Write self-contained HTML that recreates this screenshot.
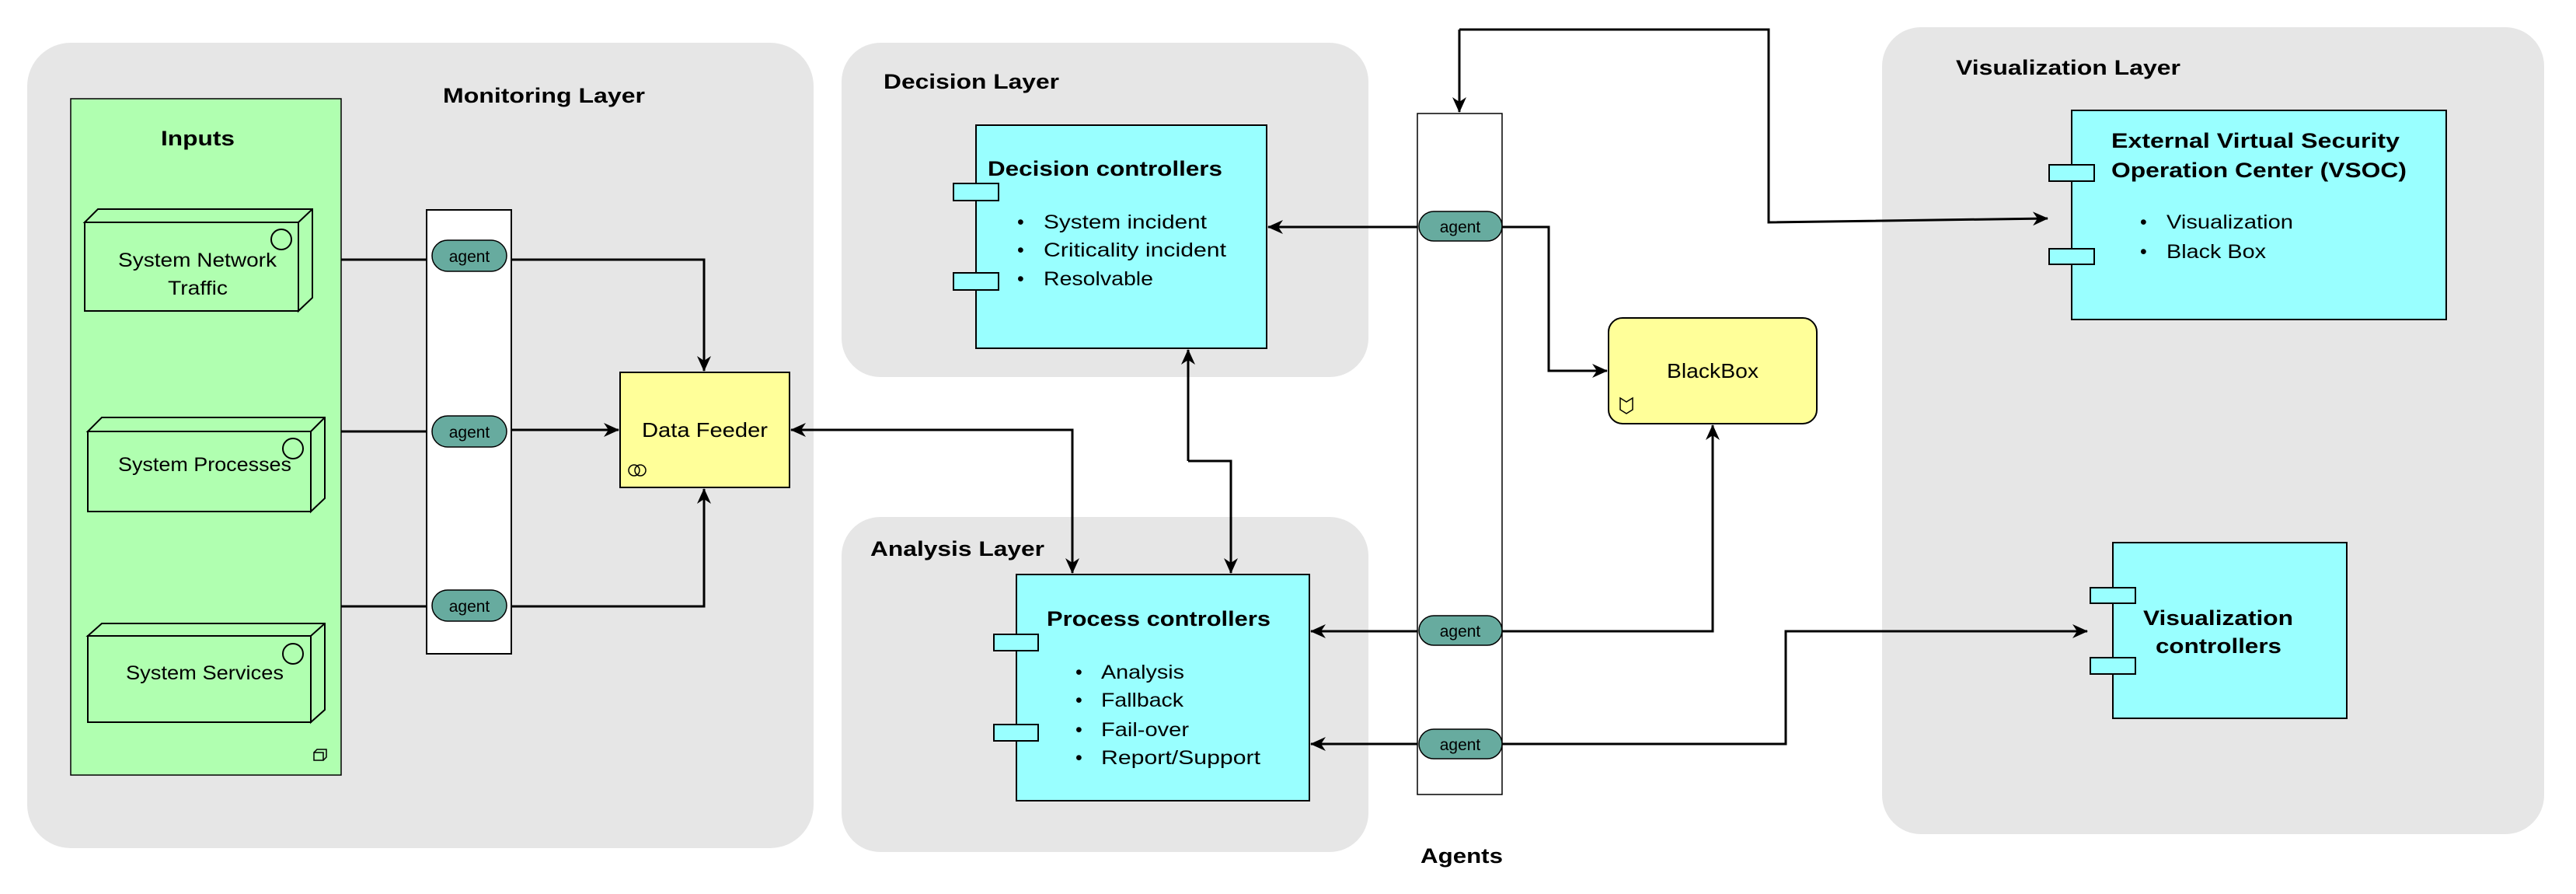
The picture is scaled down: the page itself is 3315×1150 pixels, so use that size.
<!DOCTYPE html>
<html><head><meta charset="utf-8"><style>
html,body{margin:0;padding:0;background:#fff;}
svg{display:block;}
text{font-family:"Liberation Sans",sans-serif;fill:#000;}
.b{font-weight:bold;}
</style></head><body>
<svg width="3315" height="1150" viewBox="0 0 3315 1150" xmlns="http://www.w3.org/2000/svg">
<defs>
<marker id="a" viewBox="0 0 20 20" refX="19" refY="10" markerWidth="20" markerHeight="20" markerUnits="userSpaceOnUse" orient="auto">
<path d="M0,1 L20,10 L0,19 L6,10 Z" fill="#000"/>
</marker>
</defs>
<!-- layers -->
<rect x="35" y="55" width="1012" height="1036" rx="56" fill="#e6e6e6"/>
<rect x="1083" y="55" width="678" height="430" rx="50" fill="#e6e6e6"/>
<rect x="1083" y="665" width="678" height="431" rx="50" fill="#e6e6e6"/>
<rect x="2422" y="35" width="852" height="1038" rx="50" fill="#e6e6e6"/>

<text class="b" x="570" y="132" font-size="27" textLength="260" lengthAdjust="spacingAndGlyphs">Monitoring Layer</text>
<text class="b" x="1137" y="114" font-size="27" textLength="226" lengthAdjust="spacingAndGlyphs">Decision Layer</text>
<text class="b" x="1120" y="715" font-size="27" textLength="224" lengthAdjust="spacingAndGlyphs">Analysis Layer</text>
<text class="b" x="2517" y="96" font-size="27" textLength="289" lengthAdjust="spacingAndGlyphs">Visualization Layer</text>
<text class="b" x="1828" y="1110" font-size="27" textLength="106" lengthAdjust="spacingAndGlyphs">Agents</text>

<!-- Inputs -->
<rect x="91" y="127" width="348" height="870" fill="#b0ffb0" stroke="#000" stroke-width="1.5"/>
<text class="b" x="207" y="187" font-size="27" textLength="95" lengthAdjust="spacingAndGlyphs">Inputs</text>
<g fill="#b0ffb0" stroke="#000" stroke-width="2">
<path d="M109,286 L126,269 L402,269 L402,383 L384,400 L384,286 Z"/><rect x="109" y="286" width="275" height="114"/><path d="M384,286 L402,269"/>
<path d="M113,555 L131,537 L418,537 L418,641 L400,658 L400,555 Z"/><rect x="113" y="555" width="287" height="103"/><path d="M400,555 L418,537"/>
<path d="M113,818 L131,802 L418,802 L418,913 L400,929 L400,818 Z"/><rect x="113" y="818" width="287" height="111"/><path d="M400,818 L418,802"/>
<circle cx="362" cy="308" r="13" fill="none"/><circle cx="377" cy="577" r="13" fill="none"/><circle cx="377" cy="841" r="13" fill="none"/>
<path d="M404,968 h12 v10 h-12 z M404,968 l4,-4 h12 v10 l-4,4" fill="none" stroke-width="1.5"/>
</g>
<text x="152" y="343" font-size="25" textLength="204" lengthAdjust="spacingAndGlyphs">System Network</text>
<text x="216" y="379" font-size="25" textLength="77" lengthAdjust="spacingAndGlyphs">Traffic</text>
<text x="152" y="606" font-size="25" textLength="223" lengthAdjust="spacingAndGlyphs">System Processes</text>
<text x="162" y="874" font-size="25" textLength="203" lengthAdjust="spacingAndGlyphs">System Services</text>

<!-- connectors monitoring -->
<g fill="none" stroke="#000" stroke-width="3">
<path d="M439,334 H549 M439,555 H549 M439,780 H549"/>
<path d="M658,334 H906 V477" marker-end="url(#a)"/>
<path d="M658,553 H796" marker-end="url(#a)"/>
<path d="M658,780 H906 V629" marker-end="url(#a)"/>
<path d="M1380,737 V553 H1018" marker-end="url(#a)"/>
<path d="M1380,553 V737" marker-end="url(#a)"/>
<path d="M1529,593 V450" marker-end="url(#a)"/>
<path d="M1529,593 H1584 V737" marker-end="url(#a)"/>
<path d="M1878,38 V144" marker-end="url(#a)"/>
<path d="M1878,38 H2276 V286 L2635,281" marker-end="url(#a)"/>
<path d="M1826,292 H1632" marker-end="url(#a)"/>
<path d="M1933,292 H1993 V477 H2068" marker-end="url(#a)"/>
<path d="M1826,812 H1687" marker-end="url(#a)"/>
<path d="M1933,812 H2204 V547" marker-end="url(#a)"/>
<path d="M1826,957 H1687" marker-end="url(#a)"/>
<path d="M1933,957 H2298 V812 H2686" marker-end="url(#a)"/>
</g>

<!-- agent lanes -->
<rect x="549" y="270" width="109" height="571" fill="#fff" stroke="#000" stroke-width="2"/>
<rect x="1824" y="146" width="109" height="876" fill="#fff" stroke="#000" stroke-width="1.5"/>
<g fill="#67ab9f" stroke="#000" stroke-width="1.5">
<rect x="556" y="309" width="96" height="40" rx="20"/>
<rect x="556" y="535" width="96" height="40" rx="20"/>
<rect x="556" y="759" width="96" height="40" rx="20"/>
<rect x="1826" y="272" width="107" height="38" rx="19"/>
<rect x="1826" y="792" width="107" height="38" rx="19"/>
<rect x="1826" y="938" width="107" height="38" rx="19"/>
</g>
<g font-size="21" text-anchor="middle">
<text x="604" y="337">agent</text><text x="604" y="563">agent</text><text x="604" y="787">agent</text>
<text x="1879" y="299">agent</text><text x="1879" y="819">agent</text><text x="1879" y="965">agent</text>
</g>

<!-- data feeder -->
<rect x="798" y="479" width="218" height="148" fill="#ffff99" stroke="#000" stroke-width="2"/>
<text x="826" y="562" font-size="26" textLength="162" lengthAdjust="spacingAndGlyphs">Data Feeder</text>
<circle cx="816" cy="605" r="7" fill="none" stroke="#000" stroke-width="1.5"/><circle cx="824" cy="605" r="7" fill="none" stroke="#000" stroke-width="1.5"/>

<!-- blackbox -->
<rect x="2070" y="409" width="268" height="136" rx="18" fill="#ffff99" stroke="#000" stroke-width="2"/>
<text x="2145" y="486" font-size="26" textLength="118" lengthAdjust="spacingAndGlyphs">BlackBox</text>
<path d="M2085,512 l8,5 l8,-5 v15 l-8,5 l-8,-5 z" fill="none" stroke="#000" stroke-width="1.5"/>

<!-- cyan boxes -->
<g fill="#99ffff" stroke="#000" stroke-width="2">
<rect x="1256" y="161" width="374" height="287"/>
<rect x="1227" y="236" width="58" height="22"/><rect x="1227" y="351" width="58" height="22"/>
<rect x="1308" y="739" width="377" height="291"/>
<rect x="1279" y="816" width="57" height="21"/><rect x="1279" y="932" width="57" height="21"/>
<rect x="2666" y="142" width="482" height="269"/>
<rect x="2637" y="212" width="58" height="21"/><rect x="2637" y="320" width="58" height="20"/>
<rect x="2719" y="698" width="301" height="226"/>
<rect x="2690" y="756" width="58" height="20"/><rect x="2690" y="846" width="58" height="21"/>
</g>
<text class="b" x="1271" y="226" font-size="27" textLength="302" lengthAdjust="spacingAndGlyphs">Decision controllers</text>
<g font-size="25">
<text x="1309" y="294">•</text><text x="1343" y="294" textLength="210" lengthAdjust="spacingAndGlyphs">System incident</text>
<text x="1309" y="330">•</text><text x="1343" y="330" textLength="235" lengthAdjust="spacingAndGlyphs">Criticality incident</text>
<text x="1309" y="367">•</text><text x="1343" y="367" textLength="141" lengthAdjust="spacingAndGlyphs">Resolvable</text>
</g>
<text class="b" x="1347" y="805" font-size="27" textLength="288" lengthAdjust="spacingAndGlyphs">Process controllers</text>
<g font-size="25">
<text x="1384" y="873">•</text><text x="1417" y="873" textLength="107" lengthAdjust="spacingAndGlyphs">Analysis</text>
<text x="1384" y="909">•</text><text x="1417" y="909" textLength="106" lengthAdjust="spacingAndGlyphs">Fallback</text>
<text x="1384" y="947">•</text><text x="1417" y="947" textLength="113" lengthAdjust="spacingAndGlyphs">Fail-over</text>
<text x="1384" y="983">•</text><text x="1417" y="983" textLength="205" lengthAdjust="spacingAndGlyphs">Report/Support</text>
</g>
<text class="b" x="2717" y="190" font-size="27" textLength="371" lengthAdjust="spacingAndGlyphs">External Virtual Security</text>
<text class="b" x="2717" y="228" font-size="27" textLength="380" lengthAdjust="spacingAndGlyphs">Operation Center (VSOC)</text>
<g font-size="25">
<text x="2754" y="294">•</text><text x="2788" y="294" textLength="163" lengthAdjust="spacingAndGlyphs">Visualization</text>
<text x="2754" y="332">•</text><text x="2788" y="332" textLength="128" lengthAdjust="spacingAndGlyphs">Black Box</text>
</g>
<text class="b" x="2758" y="804" font-size="27" textLength="193" lengthAdjust="spacingAndGlyphs">Visualization</text>
<text class="b" x="2774" y="840" font-size="27" textLength="162" lengthAdjust="spacingAndGlyphs">controllers</text>
</svg>
</body></html>
